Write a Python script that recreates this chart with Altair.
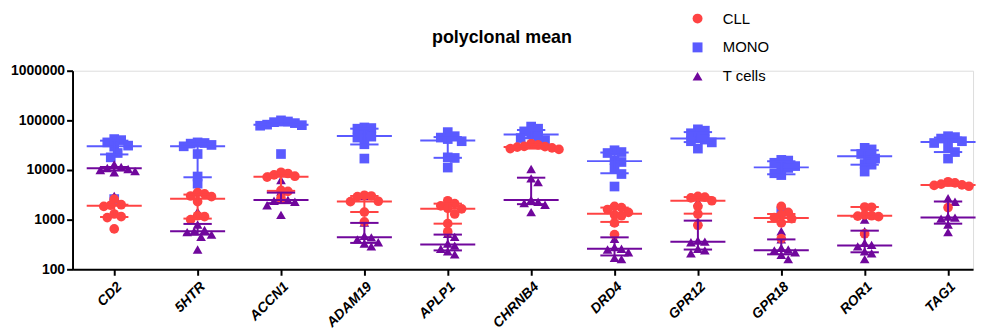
import math
import altair as alt
import pandas as pd

# ---------------- data ----------------
CATEGORIES = ["CD2", "5HTR", "ACCN1", "ADAM19", "APLP1", "CHRNB4",
              "DRD4", "GPR12", "GPR18", "ROR1", "TAG1"]
GROUPS = ["CLL", "MONO", "T cells"]
COLORS = ["#FF4343", "#5A5AFF", "#70079C"]
SHAPES = ["circle", "square", "triangle-up"]

CLL_VALUES = [
    [2600, 2000, 1950, 1850, 1300, 1150, 1100, 650],
    [3500, 3300, 3000, 2900, 2300, 1200, 1150, 1000],
    [9000, 8500, 8000, 7500, 7200, 3900, 3700, 2700],
    [3100, 3000, 2900, 2350, 2300, 1420, 900],
    [2400, 2100, 1900, 1700, 1650, 1300, 830, 570],
    [34000, 32000, 30000, 29500, 29000, 28000, 27000, 26000],
    [1850, 1750, 1600, 1400, 1250, 1200, 860, 500],
    [2950, 2850, 2750, 2400, 1850, 1300, 770],
    [1850, 1400, 1250, 1100, 1050, 860, 415],
    [1800, 1780, 1250, 1200, 1180, 1150, 520],
    [5800, 5500, 5200, 5000, 4900, 4700, 1750],
]
MONO_VALUES = [
    [42000, 40000, 36000, 31000, 29500, 22000, 18000, 2600],
    [36000, 35000, 34000, 32000, 30000, 21000, 7400, 5300],
    [100000, 95000, 92000, 88000, 82000, 80000, 78000, 21000],
    [72000, 70000, 68000, 50000, 47000, 45000, 33000, 17000],
    [58000, 48000, 45000, 42000, 38000, 18000, 17500, 11200],
    [75000, 68000, 60000, 52000, 48000, 44000, 40000],
    [25000, 23000, 22000, 15800, 14500, 10800, 8300, 4650],
    [66000, 62000, 55000, 45000, 41000, 38000, 36000, 27000],
    [16000, 15500, 14000, 12000, 11300, 11000, 8600, 7900, 1450],
    [28000, 26000, 21000, 19000, 17000, 13200, 12800, 9300],
    [48000, 46000, 43000, 38000, 35000, 29000, 23000, 17000],
]
T_VALUES = [
    [13000, 11500, 11000, 10500, 10000, 9500, 9000, 3000],
    [1450, 800, 620, 580, 560, 500, 450, 250],
    [6300, 3700, 2600, 2500, 2400, 2300, 1950, 1250],
    [3000, 870, 470, 440, 400, 350, 330, 290],
    [2100, 520, 450, 330, 300, 260, 230, 200],
    [10500, 6800, 5700, 2500, 2300, 2150, 2000, 1420],
    [930, 410, 280, 260, 250, 220, 170, 160],
    [2300, 930, 380, 360, 350, 260, 240, 210],
    [585, 400, 270, 250, 240, 220, 195, 160],
    [1000, 585, 340, 310, 290, 230, 210, 160],
    [2700, 2300, 1150, 1100, 1050, 800, 560],
]

# median and interquartile range
CLL_MEDIAN = [1900, 2630, 7350, 2320, 1660, 29200, 1320, 2400, 1080, 1200, 5000]
CLL_Q1 = [1130, 1050, 3800, 1425, 830, 27000, 900, 1320, 900, 1150, 4800]
CLL_Q3 = [2000, 3200, 8500, 3000, 2100, 32000, 1750, 2850, 1300, 1800, 5500]

MONO_MEDIAN = [30200, 30200, 82000, 48500, 39300, 51800, 15100, 43000, 11300, 19000, 36800]
MONO_Q1 = [20600, 7140, 79000, 32700, 17600, 44000, 8600, 36500, 8200, 12800, 23000]
MONO_Q3 = [39000, 34500, 95000, 68000, 46000, 64000, 22500, 58000, 15000, 25000, 45000]

T_MEDIAN = [10800, 584, 2500, 442, 316, 2500, 260, 358, 243, 302, 1110]
T_Q1 = [9800, 500, 2150, 340, 240, 2050, 190, 250, 200, 220, 830]
T_Q3 = [11500, 820, 3500, 860, 500, 7000, 440, 955, 400, 600, 2320]

# ---------------- layout helpers ----------------
PLOT_W = 907
PLOT_H = 200
X_MIN, X_MAX = -0.5, 10.3
PX_PER_CAT = PLOT_W / (X_MAX - X_MIN)
PX_PER_DECADE = PLOT_H / 4.0
MED_HALF = 0.33
CAP_HALF = 0.17


def swarm(values, d=7.0, step=3.5):
    """Simple beeswarm: spread points horizontally so markers don't pile up."""
    py = [PX_PER_DECADE * math.log10(v) for v in values]
    order = sorted(range(len(values)), key=lambda i: -py[i])
    placed, offs = [], [0.0] * len(values)
    ks = [0]
    for k in range(1, 12):
        ks += [k, -k]
    for i in order:
        ox = 0.0
        for k in ks:
            ox = k * step
            if all((ox - px) ** 2 + (py[i] - pj) ** 2 >= d * d for px, pj in placed):
                break
        placed.append((ox, py[i]))
        offs[i] = ox / PX_PER_CAT
    return offs


group_vals = {"CLL": CLL_VALUES, "MONO": MONO_VALUES, "T cells": T_VALUES}
group_stats = {
    "CLL": (CLL_MEDIAN, CLL_Q1, CLL_Q3),
    "MONO": (MONO_MEDIAN, MONO_Q1, MONO_Q3),
    "T cells": (T_MEDIAN, T_Q1, T_Q3),
}
color_of = dict(zip(GROUPS, COLORS))

pts_rows = []
stat_rows = []
for g in ["MONO", "T cells", "CLL"]:  # drawing order
    for ci, vals in enumerate(group_vals[g]):
        offs = swarm(vals)
        for v, o in zip(vals, offs):
            pts_rows.append({"group": g, "x": ci + o, "value": v})
        med, q1, q3 = (arr[ci] for arr in group_stats[g])
        stat_rows.append({"group": g, "color": color_of[g], "i": ci,
                          "med": med, "q1": q1, "q3": q3,
                          "mlo": ci - MED_HALF, "mhi": ci + MED_HALF,
                          "clo": ci - CAP_HALF, "chi": ci + CAP_HALF})

pts = pd.DataFrame(pts_rows)
stats = pd.DataFrame(stat_rows)

FONT = "Liberation Sans"
label_expr = "[" + ",".join("'%s'" % c for c in CATEGORIES) + "][round(datum.value)]"

x_scale = alt.Scale(domain=[X_MIN, X_MAX], nice=False, zero=False)
y_scale = alt.Scale(type="log", domain=[100, 1000000], nice=False)

x_axis = alt.Axis(values=list(range(len(CATEGORIES))), labelExpr=label_expr,
                  labelAngle=-45, labelFont=FONT, labelFontSize=14,
                  labelFontWeight="bold", labelFontStyle="italic",
                  labelColor="black", labelFlush=False, labelOverlap=False,
                  labelBound=False, labelPadding=4,
                  tickColor="black", tickWidth=2, tickSize=6,
                  domainColor="black", domainWidth=2, grid=False, title=None)
y_axis = alt.Axis(values=[100, 1000, 10000, 100000, 1000000], format="d",
                  labelFont=FONT, labelFontSize=14, labelFontWeight="bold",
                  labelColor="black", labelPadding=2,
                  tickColor="black", tickWidth=2, tickSize=6,
                  domainColor="black", domainWidth=2, grid=False, title=None)

points = alt.Chart(pts).mark_point(filled=True, size=95, opacity=1).encode(
    x=alt.X("x:Q", scale=x_scale, axis=x_axis),
    y=alt.Y("value:Q", scale=y_scale, axis=y_axis),
    color=alt.Color("group:N", scale=alt.Scale(domain=GROUPS, range=COLORS),
                    legend=alt.Legend(orient="none", legendX=622, legendY=-60,
                                      title=None, labelFont=FONT,
                                      labelFontSize=15, labelColor="black",
                                      symbolSize=100, labelOffset=18,
                                      rowPadding=13, symbolStrokeWidth=0)),
    shape=alt.Shape("group:N", scale=alt.Scale(domain=GROUPS, range=SHAPES)),
)

base = alt.Chart(stats)
col = alt.Color("color:N", scale=None)
median_rule = base.mark_rule(strokeWidth=2).encode(
    x=alt.X("mlo:Q", scale=x_scale), x2="mhi:Q",
    y=alt.Y("med:Q", scale=y_scale), color=col)
iqr_rule = base.mark_rule(strokeWidth=2).encode(
    x=alt.X("i:Q", scale=x_scale),
    y=alt.Y("q1:Q", scale=y_scale), y2="q3:Q", color=col)
cap_lo = base.mark_rule(strokeWidth=2).encode(
    x=alt.X("clo:Q", scale=x_scale), x2="chi:Q",
    y=alt.Y("q1:Q", scale=y_scale), color=col)
cap_hi = base.mark_rule(strokeWidth=2).encode(
    x=alt.X("clo:Q", scale=x_scale), x2="chi:Q",
    y=alt.Y("q3:Q", scale=y_scale), color=col)

chart = alt.layer(points, median_rule, iqr_rule, cap_lo, cap_hi).properties(
    width=PLOT_W, height=PLOT_H,
    title=alt.Title("polyclonal mean", font=FONT, fontSize=18,
                    fontWeight="bold", color="black", anchor="middle",
                    dx=-21, dy=58, offset=22),
    autosize=alt.AutoSizeParams(type="none"),
    padding={"left": 65, "top": 62, "right": 8, "bottom": 64},
).configure_view(stroke=None).configure(background="white")

chart.save("out.html", embed_options={"renderer": "svg", "actions": False})
